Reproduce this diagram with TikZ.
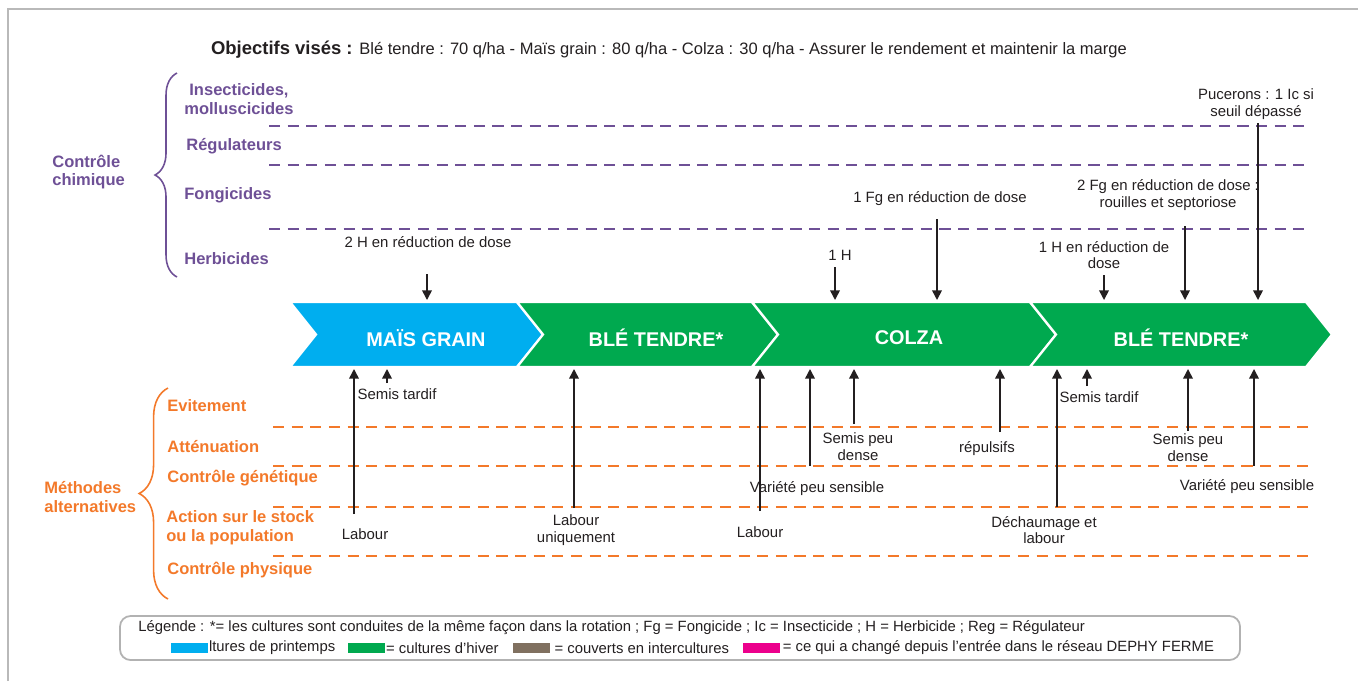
\documentclass[tikz,border=0pt]{standalone}
\usepackage{fontspec}
\setmainfont{Liberation Sans}
\usetikzlibrary{arrows.meta,decorations.pathreplacing}
\definecolor{chem}{RGB}{110,80,150}
\definecolor{alt}{RGB}{243,121,42}
\definecolor{ink}{RGB}{35,31,32}
\definecolor{spring}{RGB}{0,174,239}
\definecolor{winter}{RGB}{0,169,79}
\definecolor{cover}{RGB}{128,112,96}
\definecolor{changed}{RGB}{236,0,140}

\begin{document}
\begin{tikzpicture}[
    x=0.02cm, y=-0.02cm,
    >={Triangle[length=5.5pt,width=5.5pt]},
    chemlbl/.style={text=chem, font=\fontsize{9.4}{10.4}\selectfont\bfseries,
        inner sep=0pt, anchor=west, align=left},
    altlbl/.style={text=alt, font=\fontsize{9.4}{10.8}\selectfont\bfseries,
        inner sep=0pt, anchor=west, align=left},
    note/.style={text=ink, font=\fontsize{8.5}{9.6}\selectfont, inner sep=0pt,
        align=center},
    croplbl/.style={text=white, font=\fontsize{11.3}{13}\selectfont\bfseries,
        inner sep=0pt},
    crop/.style={draw=white, line width=1.3pt},
    chemline/.style={draw=chem, line width=1.6pt, dash pattern=on 6.3pt off 4.3pt},
    altline/.style={draw=alt, line width=1.6pt, dash pattern=on 6.3pt off 4.3pt},
    pest/.style={->, draw=ink, line width=0.9pt},
    swatch/.style={minimum width=0.74cm, minimum height=0.2cm, inner sep=0pt,
        anchor=west},
    legtext/.style={text=ink, font=\fontsize{8.45}{9.5}\selectfont, inner sep=0pt,
        anchor=west},
]
\useasboundingbox (0,0) rectangle (1358,681);
\draw[gray!55, line width=1.3pt] (8,681) -- (8,9) -- (1358,9);

% objectives
\node[text=ink, inner sep=0pt] (goal) at (669,50)
    {\fontsize{10.5}{12}\selectfont\bfseries Objectifs visés :
     \fontsize{9.4}{11}\selectfont\mdseries Blé tendre : 70 q/ha - Maïs grain : 80 q/ha - Colza : 30 q/ha - Assurer le rendement et maintenir la marge};

% chemical control
\node[chemlbl] (chimie) at (52,172) {Contrôle\\chimique};
\draw[chem, line width=0.9pt, decorate, decoration={brace, amplitude=12.5pt}]
    (177,277) -- (177,73);
\node[chemlbl, align=center] (insect) at (184,99) {Insecticides,\\molluscicides};
\node[chemlbl] (regul) at (186,146) {Régulateurs};
\node[chemlbl] (fongi) at (184,195) {Fongicides};
\node[chemlbl] (herbi) at (184,259) {Herbicides};
\draw[chemline] (269,126) -- (1308,126);
\draw[chemline] (269,165) -- (1308,165);
\draw[chemline] (269,229) -- (1308,229);

% alternative methods
\node[altlbl] (alternat) at (44,497) {Méthodes\\alternatives};
\draw[alt, line width=0.9pt, decorate, decoration={brace, amplitude=16.4pt}]
    (168,599) -- (168,388);
\node[altlbl] (evit) at (167,406) {Evitement};
\node[altlbl] (atten) at (167,447) {Atténuation};
\node[altlbl] (genet) at (167,478) {Contrôle génétique};
\node[altlbl] (stock) at (166,528) {Action sur le stock\\ou la population};
\node[altlbl] (phys) at (167,570) {Contrôle physique};
\draw[altline] (273,427) -- (1312,427);
\draw[altline] (273,466) -- (1312,466);
\draw[altline] (273,507) -- (1312,507);
\draw[altline] (273,556) -- (1312,556);

% rotation
\path[crop, fill=spring] (290,302) -- (517,302) -- (543,334.5) -- (517,367)
    -- (290,367) -- (316,334.5) -- cycle;
\path[crop, fill=winter] (517,302) -- (752,302) -- (778,334.5) -- (752,367)
    -- (517,367) -- (543,334.5) -- cycle;
\path[crop, fill=winter] (752,302) -- (1030,302) -- (1056,334.5) -- (1030,367)
    -- (752,367) -- (778,334.5) -- cycle;
\path[crop, fill=winter] (1030,302) -- (1306,302) -- (1332,334.5) -- (1306,367)
    -- (1030,367) -- (1056,334.5) -- cycle;
\node[croplbl] (mais) at (426,338) {MAÏS GRAIN};
\node[croplbl] (ble1) at (656,338) {BLÉ TENDRE*};
\node[croplbl] (colza) at (909,338) {COLZA};
\node[croplbl] (ble2) at (1181,338) {BLÉ TENDRE*};
\coordinate (croptop) at (0,300);
\coordinate (cropbot) at (0,369);

% chemical interventions
\node[note] (hdose) at (428,242) {2 H en réduction de dose};
\node[note] (hcolza) at (840,255) {1 H};
\node[note] (fgcolza) at (940,199) {1 Fg en réduction de dose};
\node[note] (hble) at (1104,255) {1 H en réduction de\\dose};
\node[note] (fgble) at (1168,195) {2 Fg en réduction de dose :\\rouilles et septoriose};
\node[note] (ic) at (1256,104) {Pucerons : 1 Ic si\\seuil dépassé};
\coordinate (hdoseA) at (427,274);
\coordinate (hcolzaA) at (835,267);
\coordinate (fgcolzaA) at (937,219);
\coordinate (hbleA) at (1104,275);
\coordinate (fgbleA) at (1185,226);
\coordinate (icA) at (1258,123);
\foreach \c in {hdoseA,hcolzaA,fgcolzaA,hbleA,fgbleA,icA}
    \draw[pest] (\c) -- (\c |- croptop);

% alternative levers
\node[note] (lab1) at (365,534) {Labour};
\node[note] (st1) at (397,394) {Semis tardif};
\node[note] (labu) at (576,530) {Labour\\uniquement};
\node[note] (lab2) at (760,532) {Labour};
\node[note] (var1) at (817,489) {Variété peu sensible};
\node[note] (spd1) at (858,447) {Semis peu\\dense};
\node[note] (rep) at (987,449) {répulsifs};
\node[note] (dech) at (1044,530) {Déchaumage et\\labour};
\node[note] (st2) at (1099,397) {Semis tardif};
\node[note] (spd2) at (1188,448) {Semis peu\\dense};
\node[note] (var2) at (1247,487) {Variété peu sensible};
\coordinate (lab1A) at (354,514);
\coordinate (st1A) at (387,383);
\coordinate (labuA) at (574,508);
\coordinate (lab2A) at (760,511);
\coordinate (var1A) at (810,466);
\coordinate (spd1A) at (854,424);
\coordinate (repA) at (1000,432);
\coordinate (dechA) at (1057,507);
\coordinate (st2A) at (1087,386);
\coordinate (spd2A) at (1188,431);
\coordinate (var2A) at (1254,466);
\foreach \c in {lab1A,st1A,labuA,lab2A,var1A,spd1A,repA,dechA,st2A,spd2A,var2A}
    \draw[pest] (\c) -- (\c |- cropbot);

% legend
\draw[gray!60, line width=1pt, rounded corners=6pt] (120,616) rectangle (1240,660);
\node[legtext] (leg1) at (138,628) {Légende : *= les cultures sont conduites de la même façon dans la rotation ; Fg = Fongicide ; Ic = Insecticide ; H = Herbicide ; Reg = Régulateur};
\node[swatch, fill=spring] (swspring) at (171,648) {};
\node[legtext] (legspring) at (swspring.east) {ltures de printemps};
\node[swatch, fill=winter] (swwinter) at (348,648) {};
\node[legtext] (legwinter) at (swwinter.east) {= cultures d’hiver};
\node[swatch, fill=cover] (swcover) at (513,648) {};
\node[legtext] (legcover) at ([xshift=2pt]swcover.east) {= couverts en intercultures};
\node[swatch, fill=changed] (swchanged) at (743,648) {};
\node[legtext] (legchanged) at ([xshift=1pt]swchanged.east) {= ce qui a changé depuis l’entrée dans le réseau DEPHY FERME};
\end{tikzpicture}
\end{document}
